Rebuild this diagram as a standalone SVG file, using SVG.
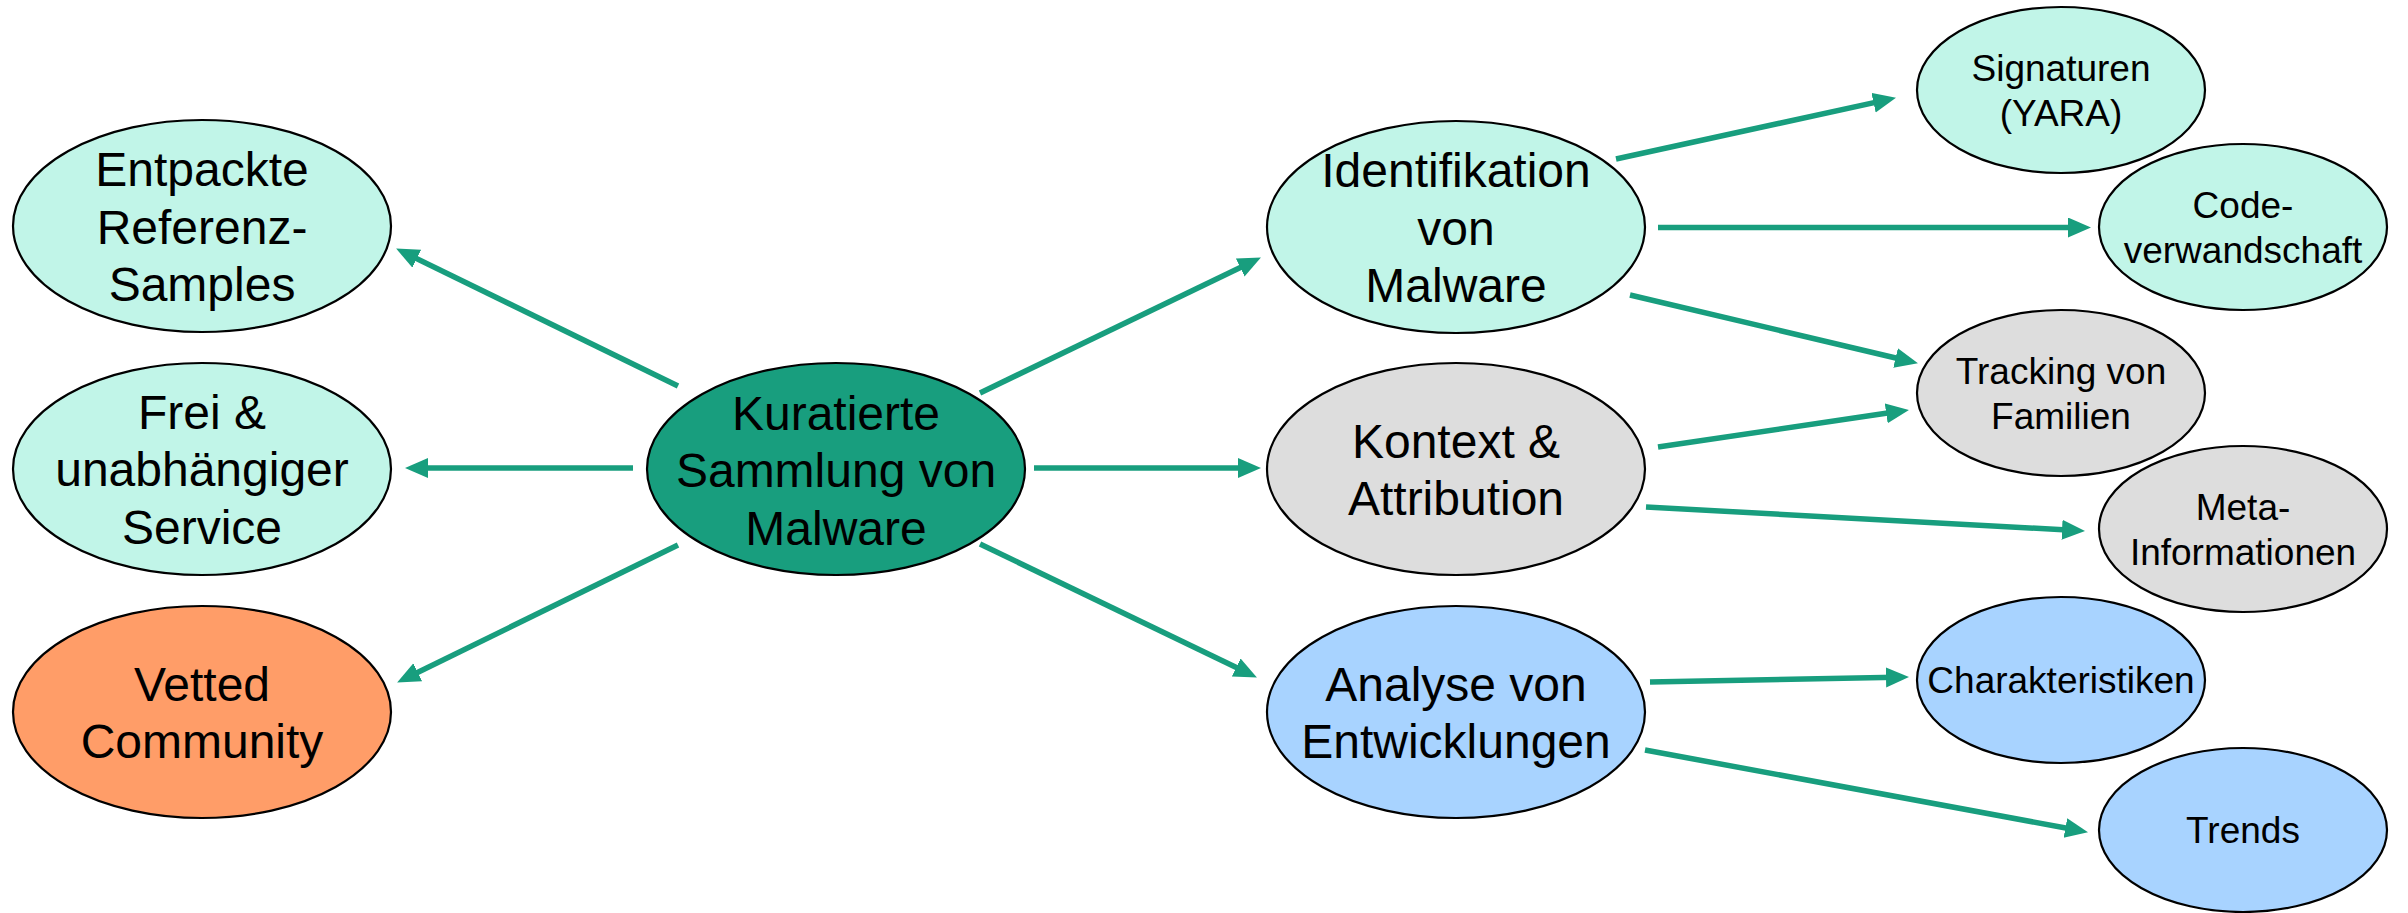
<svg xmlns="http://www.w3.org/2000/svg" width="2408" height="913" viewBox="0 0 2408 913">
<defs>
<marker id="ah" markerUnits="userSpaceOnUse" markerWidth="24" markerHeight="22" refX="10" refY="10" orient="auto">
<path d="M0,0 L23,10 L0,20 z" fill="#189E7E"/>
</marker>
<style>
.n ellipse{stroke:#000;stroke-width:2.2}
.t1{fill:#C1F5E8}.t2{fill:#189E7E}.or{fill:#FF9D68}.gr{fill:#DDDDDD}.bl{fill:#A8D3FF}
text{font-family:"Liberation Sans",Arial,sans-serif;fill:#000;text-anchor:middle}
.L{font-size:48px}.S{font-size:37px}
#edges line{stroke:#189E7E;stroke-width:5.5;marker-end:url(#ah)}
</style>
</defs>
<g id="edges">
<line x1="678" y1="386" x2="407.8" y2="254.3"/>
<line x1="633" y1="468" x2="418" y2="468"/>
<line x1="678" y1="545" x2="408.8" y2="676.7"/>
<line x1="980" y1="393" x2="1249.2" y2="263.2"/>
<line x1="1034" y1="468" x2="1248" y2="468"/>
<line x1="980" y1="544" x2="1245.2" y2="671.8"/>
<line x1="1616" y1="159" x2="1883.3" y2="100.6"/>
<line x1="1658" y1="227.5" x2="2078" y2="227.5"/>
<line x1="1630" y1="295" x2="1905.3" y2="360.2"/>
<line x1="1658" y1="447" x2="1896.1" y2="411.8"/>
<line x1="1646" y1="507" x2="2072" y2="530.3"/>
<line x1="1650" y1="682" x2="1896" y2="677.2"/>
<line x1="1645" y1="750" x2="2075.2" y2="829.8"/>
</g>
<g id="entpackte" class="n"><ellipse class="t1" cx="202" cy="226" rx="189" ry="106"/>
<text class="L" x="202" y="186">Entpackte</text><text class="L" x="202" y="243.5">Referenz-</text><text class="L" x="202" y="301">Samples</text></g>
<g id="frei" class="n"><ellipse class="t1" cx="202" cy="469" rx="189" ry="106"/>
<text class="L" x="202" y="428.5">Frei &amp;</text><text class="L" x="202" y="486">unabhängiger</text><text class="L" x="202" y="543.5">Service</text></g>
<g id="vetted" class="n"><ellipse class="or" cx="202" cy="712" rx="189" ry="106"/>
<text class="L" x="202" y="700.5">Vetted</text><text class="L" x="202" y="758">Community</text></g>
<g id="kuratierte" class="n"><ellipse class="t2" cx="836" cy="469" rx="189" ry="106"/>
<text class="L" x="836" y="429.5">Kuratierte</text><text class="L" x="836" y="487">Sammlung von</text><text class="L" x="836" y="544.5">Malware</text></g>
<g id="identifikation" class="n"><ellipse class="t1" cx="1456" cy="227" rx="189" ry="106"/>
<text class="L" x="1456" y="187">Identifikation</text><text class="L" x="1456" y="244.5">von</text><text class="L" x="1456" y="302">Malware</text></g>
<g id="kontext" class="n"><ellipse class="gr" cx="1456" cy="469" rx="189" ry="106"/>
<text class="L" x="1456" y="457.5">Kontext &amp;</text><text class="L" x="1456" y="515">Attribution</text></g>
<g id="analyse" class="n"><ellipse class="bl" cx="1456" cy="712" rx="189" ry="106"/>
<text class="L" x="1456" y="700.5">Analyse von</text><text class="L" x="1456" y="758">Entwicklungen</text></g>
<g id="signaturen" class="n"><ellipse class="t1" cx="2061" cy="90" rx="144" ry="83"/>
<text class="S" x="2061" y="81">Signaturen</text><text class="S" x="2061" y="126">(YARA)</text></g>
<g id="code" class="n"><ellipse class="t1" cx="2243" cy="227" rx="144" ry="83"/>
<text class="S" x="2243" y="218">Code-</text><text class="S" x="2243" y="263">verwandschaft</text></g>
<g id="tracking" class="n"><ellipse class="gr" cx="2061" cy="393" rx="144" ry="83"/>
<text class="S" x="2061" y="384">Tracking von</text><text class="S" x="2061" y="429">Familien</text></g>
<g id="meta" class="n"><ellipse class="gr" cx="2243" cy="529" rx="144" ry="83"/>
<text class="S" x="2243" y="520">Meta-</text><text class="S" x="2243" y="565">Informationen</text></g>
<g id="charakteristiken" class="n"><ellipse class="bl" cx="2061" cy="680" rx="144" ry="83"/>
<text class="S" x="2061" y="693">Charakteristiken</text></g>
<g id="trends" class="n"><ellipse class="bl" cx="2243" cy="830" rx="144" ry="82"/>
<text class="S" x="2243" y="843">Trends</text></g>
</svg>
